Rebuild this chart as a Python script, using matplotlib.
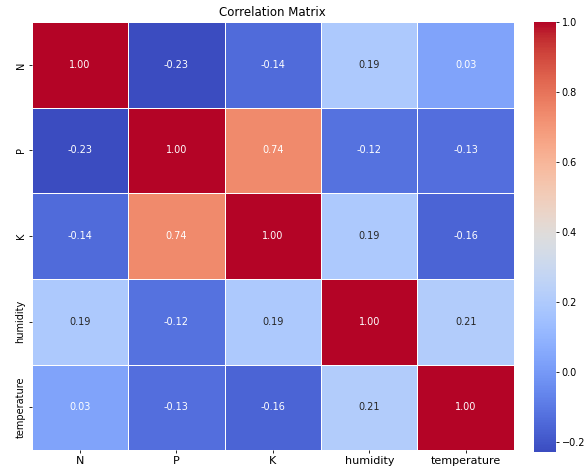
import numpy as np
import pandas as pd
import matplotlib
matplotlib.use("Agg")
import matplotlib.pyplot as plt
import seaborn as sns

# features in the correlation matrix
labels = ["N", "P", "K", "humidity", "temperature"]

# correlation values
row_N = [1.00, -0.23, -0.14, 0.19, 0.03]
row_P = [-0.23, 1.00, 0.74, -0.12, -0.13]
row_K = [-0.14, 0.74, 1.00, 0.19, -0.16]
row_hum = [0.19, -0.12, 0.19, 1.00, 0.21]
row_temp = [0.03, -0.13, -0.16, 0.21, 1.00]

corr = pd.DataFrame([row_N, row_P, row_K, row_hum, row_temp],
                    index=labels, columns=labels)

fig = plt.figure(figsize=(5.88, 4.68), dpi=100)
ax = fig.add_axes([0.054, 0.038, 0.82, 0.915])
cax = fig.add_axes([0.908, 0.034, 0.038, 0.92])

sns.heatmap(corr, annot=True, fmt=".2f", cmap="coolwarm", linewidths=0.5,
            linecolor="white", ax=ax, cbar_ax=cax,
            annot_kws={"fontsize": 7})

ax.set_title("Correlation Matrix", fontsize=8.5, pad=4)
ax.tick_params(axis="both", labelsize=7, length=2.5, width=0.6, pad=2)
ax.tick_params(axis="x", labelsize=8)
cax.tick_params(labelsize=7, length=2.5, width=0.6, pad=1.5)
for s in cax.spines.values():
    s.set_visible(False)

fig.savefig("out.png", dpi=100)
